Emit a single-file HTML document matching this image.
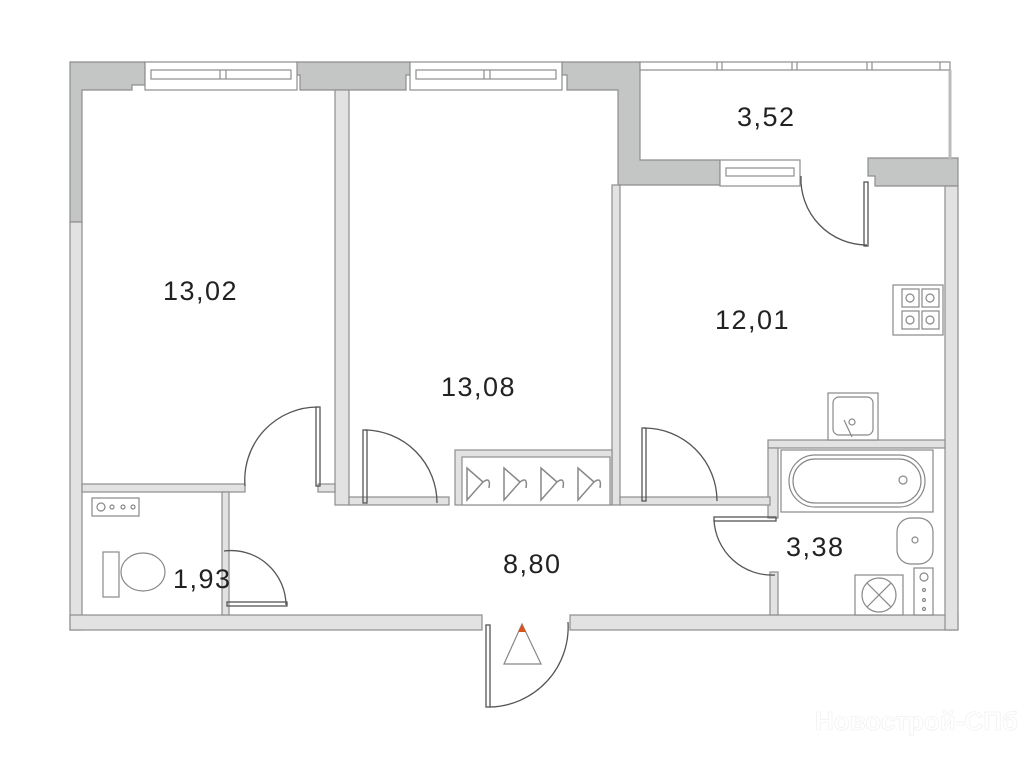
<!DOCTYPE html>
<html><head><meta charset="utf-8"><style>
html,body{margin:0;padding:0;background:#fff;}
svg{display:block}
text{font-family:"Liberation Sans",sans-serif;fill:#222;font-size:27px;letter-spacing:1.5px}
</style></head><body>
<svg width="1024" height="768" viewBox="0 0 1024 768" xmlns="http://www.w3.org/2000/svg">
<g stroke="#8e8e8e" stroke-width="1.2">
<path d="M70 62 H145 V85 H132 V90 H82 V222 H70 Z" fill="#c4c5c5"/>
<path d="M296 62 H410 V75 H406 V90 H300 V75 H296 Z" fill="#c4c5c5"/>
<path d="M562 62 H640 V160 H720 V185 H618 V90 H567 V75 H562 Z" fill="#c4c5c5"/>
<path d="M868 158 H958 V186 H875 V176 H868 Z" fill="#c4c5c5"/>
<rect x="70" y="222" width="12" height="408" fill="#e2e2e2"/>
<rect x="70" y="615" width="412" height="15" fill="#e2e2e2"/>
<rect x="570" y="615" width="388" height="15" fill="#e2e2e2"/>
<rect x="945" y="186" width="13" height="444" fill="#e2e2e2"/>
<rect x="335" y="90" width="14" height="415" fill="#e2e2e2"/>
<rect x="612" y="185" width="8" height="320" fill="#e2e2e2"/>
<rect x="82" y="484" width="163" height="8" fill="#e2e2e2"/>
<rect x="222" y="492" width="7" height="123" fill="#e2e2e2"/>
<rect x="768" y="440" width="177" height="8" fill="#e2e2e2"/>
<rect x="768" y="448" width="10" height="70" fill="#e2e2e2"/>
<rect x="770" y="572" width="8" height="43" fill="#e2e2e2"/>
<rect x="620" y="497" width="150" height="8" fill="#e2e2e2"/>
<rect x="349" y="497" width="100" height="8" fill="#e2e2e2"/>
<rect x="318" y="484" width="17" height="8" fill="#e2e2e2"/>
<rect x="455" y="450" width="157" height="55" fill="#e2e2e2"/>
<rect x="462" y="457" width="148" height="48" fill="#fff"/>
</g>
<g fill="#fff" stroke="#8e8e8e" stroke-width="1.2">
<rect x="145" y="62" width="152" height="28"/>
<rect x="151" y="70" width="140" height="9"/>
<line x1="220" y1="70" x2="220" y2="79"/><line x1="226" y1="70" x2="226" y2="79"/>
<rect x="410" y="62" width="152" height="28"/>
<rect x="416" y="70" width="140" height="9"/>
<line x1="484" y1="70" x2="484" y2="79"/><line x1="490" y1="70" x2="490" y2="79"/>
<rect x="640" y="62" width="310" height="8"/>
<line x1="717" y1="62" x2="717" y2="70"/><line x1="722" y1="62" x2="722" y2="70"/>
<line x1="792" y1="62" x2="792" y2="70"/><line x1="797" y1="62" x2="797" y2="70"/>
<line x1="867" y1="62" x2="867" y2="70"/><line x1="872" y1="62" x2="872" y2="70"/>
<line x1="940" y1="62" x2="940" y2="70"/>
<rect x="720" y="160" width="80" height="26"/>
<rect x="726" y="168" width="68" height="8"/>
</g>
<line x1="950" y1="70" x2="950" y2="160" stroke="#bbb" stroke-width="3"/>
<g fill="none" stroke="#555" stroke-width="1.3">
<path d="M801 176 A66 66 0 0 0 867 245"/><rect x="864" y="182" width="4" height="64"/>
<path d="M245 486 A73 73 0 0 1 318 407"/><rect x="316" y="407" width="4" height="79"/>
<path d="M365 430 A73 73 0 0 1 437 503"/><rect x="363" y="430" width="4" height="73"/>
<path d="M644 428 A73 73 0 0 1 717 501"/><rect x="642" y="428" width="4" height="73"/>
<path d="M714 520 A58 58 0 0 0 775 575"/><rect x="714" y="517" width="62" height="4"/>
<path d="M224 551 A55 55 0 0 1 286 605"/><rect x="227" y="602" width="60" height="4"/>
<path d="M490 707 A80 80 0 0 0 568 622"/><rect x="486" y="625" width="4" height="82"/>
</g>
<g fill="none" stroke="#888" stroke-width="1.5">
<path d="M467 468 L467 500 L483 482 Z"/><path d="M483 482 q8 -6 6 6"/>
<path d="M504 468 L504 500 L520 482 Z"/><path d="M520 482 q8 -6 6 6"/>
<path d="M541 468 L541 500 L557 482 Z"/><path d="M557 482 q8 -6 6 6"/>
<path d="M578 468 L578 500 L594 482 Z"/><path d="M594 482 q8 -6 6 6"/>
</g>
<g fill="#fff" stroke="#888" stroke-width="1.2">
<rect x="893" y="285" width="50" height="50"/>
<rect x="902" y="289" width="17" height="18"/><rect x="922" y="289" width="17" height="18"/>
<rect x="902" y="311" width="17" height="18"/><rect x="922" y="311" width="17" height="18"/>
<circle cx="910" cy="298" r="4"/><circle cx="930" cy="298" r="4"/><circle cx="910" cy="320" r="4"/><circle cx="930" cy="320" r="4"/>
<rect x="828" y="393" width="50" height="47"/><rect x="833" y="397" width="40" height="38" rx="6"/>
<circle cx="852" cy="422" r="3"/><line x1="844" y1="420" x2="852" y2="437"/>
<rect x="781" y="450" width="152" height="62"/>
<rect x="789" y="455" width="136" height="52" rx="26"/>
<rect x="793" y="459" width="128" height="44" rx="22"/>
<circle cx="903" cy="480" r="4"/>
<rect x="897" y="518" width="36" height="46" rx="14"/>
<circle cx="915" cy="540" r="3"/>
<rect x="855" y="575" width="48" height="40"/><circle cx="879" cy="595" r="17"/>
<line x1="867" y1="583" x2="891" y2="607"/><line x1="891" y1="583" x2="867" y2="607"/>
<rect x="914" y="568" width="19" height="47"/><circle cx="924" cy="577" r="4"/>
<circle cx="924" cy="590" r="1.5"/><circle cx="924" cy="600" r="1.5"/><circle cx="924" cy="609" r="1.5"/>
<rect x="92" y="498" width="47" height="18"/><circle cx="101" cy="507" r="4"/>
<circle cx="112" cy="507" r="2"/><circle cx="123" cy="507" r="2"/><circle cx="133" cy="507" r="2"/>
<rect x="103" y="552" width="16" height="45"/><ellipse cx="143" cy="572" rx="22" ry="19"/>
<path d="M504 664 L522 624 L541 664 Z"/>
</g>
<path d="M522 624 L518 632 L526 632 Z" fill="#d9541e"/>
<text x="163" y="300">13,02</text>
<text x="441" y="396">13,08</text>
<text x="737" y="126">3,52</text>
<text x="715" y="329">12,01</text>
<text x="786" y="556">3,38</text>
<text x="503" y="573">8,80</text>
<text x="173" y="588">1,93</text>
<text x="815" y="730" style="fill:#fff;stroke:#eee;stroke-width:0.6;font-size:26px;font-weight:bold;letter-spacing:0">Новострой-СПб</text>
</svg>
</body></html>
